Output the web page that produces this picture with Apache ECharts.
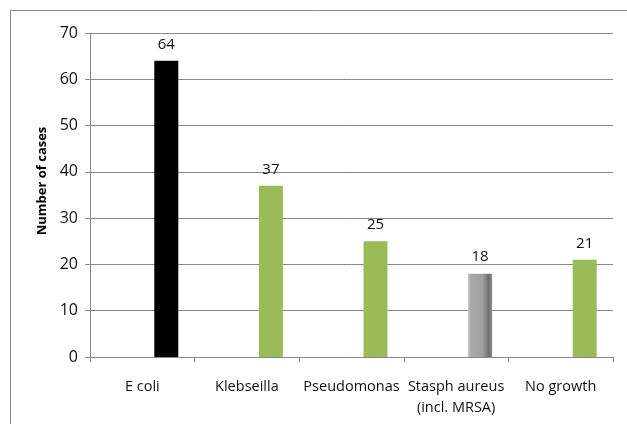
<!DOCTYPE html>
<html><head><meta charset="utf-8">
<script src="https://cdn.jsdelivr.net/npm/echarts@6/dist/echarts.min.js"></script>
<style>html,body{margin:0;padding:0;background:#fff}#c{width:627px;height:424px}</style>
</head><body><div id="c"></div>
<script>
var categories = ['E coli', 'Klebseilla', 'Pseudomonas', 'Stasph aureus\n(incl. MRSA)', 'No growth'];
var cases = [64, 37, 25, 18, 21];
var yTicks = [0, 10, 20, 30, 40, 50, 60, 70];
var axisTitle = 'Number of cases';

var FONT = 'Open Sans';
var green = '#9BBB59';
var grayGrad = new echarts.graphic.LinearGradient(0, 0, 1, 0, [
  {offset: 0, color: '#c4c4c4'}, {offset: 0.12, color: '#a8a8a8'},
  {offset: 0.6, color: '#a0a0a0'}, {offset: 0.85, color: '#707070'}, {offset: 1, color: '#8a8a8a'}
]);
var colors = ['#000000', green, green, grayGrad, green];
var barData = cases.map(function (v, i) { return {value: v, itemStyle: {color: colors[i]}}; });

var chart = echarts.init(document.getElementById('c'));
chart.setOption({
  animation: false,
  grid: {left: 90, right: 14, top: 33, bottom: 67},
  graphic: [
    {type: 'rect', shape: {x: 10.5, y: 10.5, width: 640, height: 440}, style: {fill: null, stroke: '#8c8c8c', lineWidth: 1}, silent: true},
    {type: 'text', x: 42, y: 181, rotation: Math.PI / 2, style: {text: axisTitle, font: 'bold 13px ' + FONT, fill: '#000', align: 'center', verticalAlign: 'middle'}}
  ],
  xAxis: {
    type: 'category', data: categories,
    axisLine: {lineStyle: {color: '#888', width: 1}},
    axisTick: {show: true, length: 5, alignWithLabel: false, lineStyle: {color: '#888'}},
    axisLabel: {color: '#111', fontFamily: FONT, fontSize: 14.5, margin: 19, lineHeight: 21, interval: 0}
  },
  yAxis: {
    type: 'value', min: 0, max: 70, interval: 10,
    axisLine: {show: true, lineStyle: {color: '#888'}},
    axisTick: {show: true, length: 5, lineStyle: {color: '#888'}},
    splitLine: {lineStyle: {color: '#888', width: 1}},
    axisLabel: {color: '#111', fontFamily: FONT, fontSize: 16, margin: 12,
      formatter: function (v) { return yTicks.indexOf(v) >= 0 ? String(v) : ''; }}
  },
  series: [
    {type: 'bar', data: cases.map(function () { return null; }), barWidth: 24, barGap: '100%'},
    {type: 'bar', data: barData, barWidth: 24, barGap: '100%',
      label: {show: true, position: 'top', distance: 9, color: '#111', fontFamily: FONT, fontSize: 15}}
  ]
});
</script></body></html>
